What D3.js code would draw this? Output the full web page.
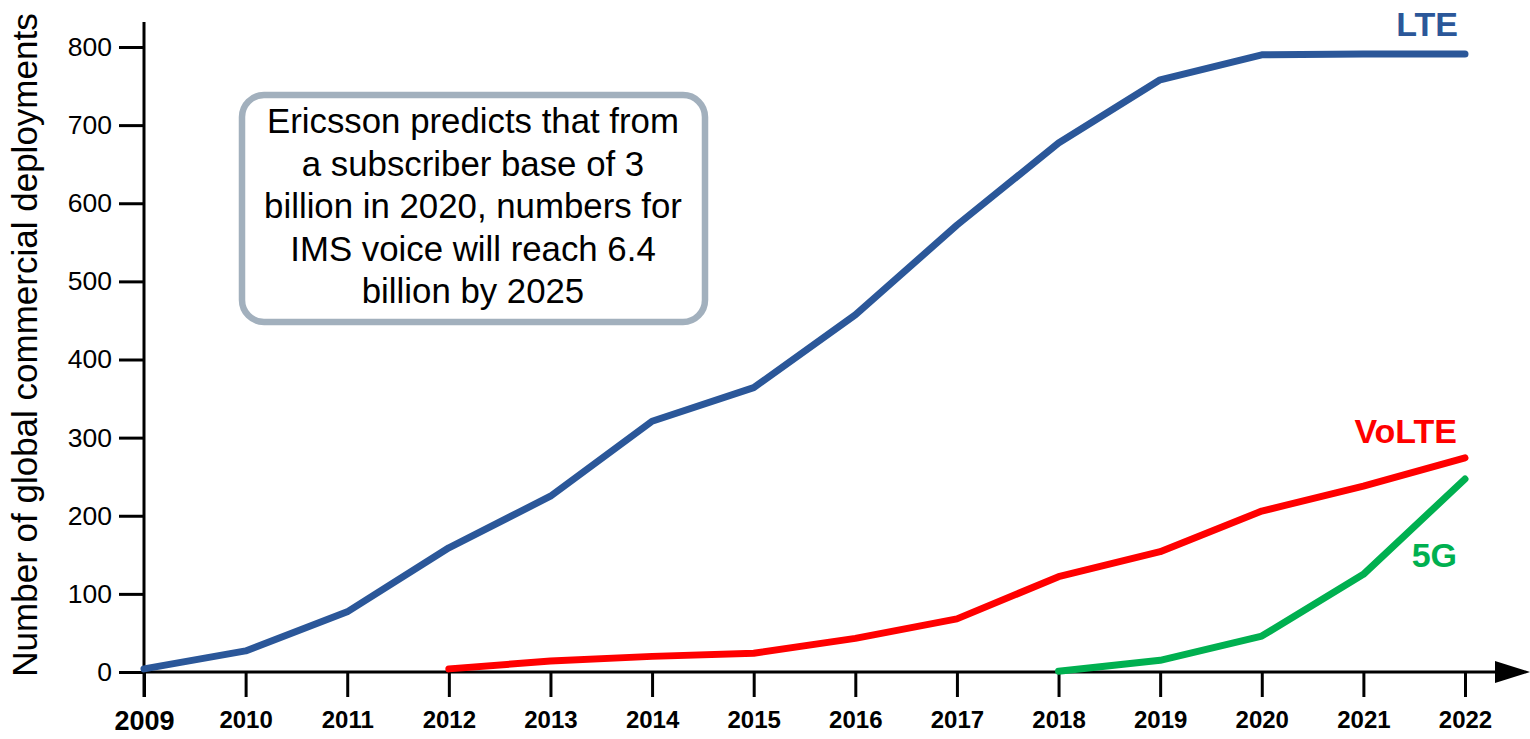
<!DOCTYPE html>
<html>
<head>
<meta charset="utf-8">
<script src="https://cdn.jsdelivr.net/npm/d3@7"></script>
<style>
  body { margin: 0; background: #fff; }
  svg { display: block; font-family: "Liberation Sans", Arial, sans-serif; }
</style>
</head>
<body>
<div id="chart"></div>
<script>
// data
const years = [2009, 2010, 2011, 2012, 2013, 2014, 2015, 2016, 2017, 2018, 2019, 2020, 2021, 2022];
const lteValues = [4, 27, 77, 159, 225, 321, 364, 457, 572, 677, 758, 790, 791, 791];
const volteYears = [2012, 2013, 2014, 2015, 2016, 2017, 2018, 2019, 2020, 2021, 2022];
const volteValues = [4, 14, 20, 24, 43, 68, 122, 154, 206, 238, 274];
const g5Years = [2018, 2019, 2020, 2021, 2022];
const g5Values = [1, 15, 46, 125, 247];
const yTicks = [0, 100, 200, 300, 400, 500, 600, 700, 800];
const noteLines = [
  "Ericsson predicts that from",
  "a subscriber base of 3",
  "billion in 2020, numbers for",
  "IMS voice will reach 6.4",
  "billion by 2025"
];

const width = 1530, height = 739;
const font = "Liberation Sans, Arial, sans-serif";
const svg = d3.select("#chart").append("svg")
    .attr("width", width)
    .attr("height", height);

const x = d3.scaleLinear().domain([2009, 2022]).range([144, 1465]);
const y = d3.scaleLinear().domain([0, 800]).range([672, 47]);

// y axis
const yAxis = svg.append("g")
    .attr("transform", `translate(${x(2009)},0)`)
    .call(d3.axisLeft(y).tickValues(yTicks).tickSize(25).tickPadding(7).tickSizeOuter(0));
yAxis.select(".domain").remove();
yAxis.selectAll(".tick line").attr("stroke", "#000").attr("stroke-width", 3);
yAxis.selectAll(".tick text")
    .attr("font-size", 26.5)
    .attr("font-family", font)
    .attr("fill", "#000");
svg.append("line")
    .attr("x1", x(2009)).attr("x2", x(2009))
    .attr("y1", 22).attr("y2", 697)
    .attr("stroke", "#000").attr("stroke-width", 3);

// x axis
const xAxis = svg.append("g")
    .attr("transform", `translate(0,${y(0)})`)
    .call(d3.axisBottom(x).tickValues(years).tickFormat(d3.format("d")).tickSize(25).tickPadding(14).tickSizeOuter(0));
xAxis.select(".domain").remove();
xAxis.selectAll(".tick line").attr("stroke", "#000").attr("stroke-width", 3);
xAxis.selectAll(".tick text")
    .attr("font-size", 24)
    .attr("font-weight", "bold")
    .attr("font-family", font)
    .attr("fill", "#000");
xAxis.selectAll(".tick text").filter(d => d === 2009)
    .attr("font-size", 27);
svg.append("line")
    .attr("x1", x(2009)).attr("x2", 1500)
    .attr("y1", y(0)).attr("y2", y(0))
    .attr("stroke", "#000").attr("stroke-width", 3);
svg.append("path")
    .attr("d", `M1495,${y(0) - 11} L1530,${y(0)} L1495,${y(0) + 11} Z`)
    .attr("fill", "#000");

// y axis title
svg.append("text")
    .attr("transform", `translate(37,345) rotate(-90)`)
    .attr("text-anchor", "middle")
    .attr("font-size", 35)
    .attr("font-family", font)
    .attr("fill", "#000")
    .text("Number of global commercial deployments");

// lines
const line = d3.line().x(d => x(d[0])).y(d => y(d[1]));
const series = [
  { name: "LTE", xs: years, vs: lteValues, color: "#2b5799" },
  { name: "VoLTE", xs: volteYears, vs: volteValues, color: "#ff0000" },
  { name: "5G", xs: g5Years, vs: g5Values, color: "#00b050" }
];
series.forEach(s => {
  svg.append("path")
      .datum(d3.zip(s.xs, s.vs))
      .attr("d", line)
      .attr("fill", "none")
      .attr("stroke", s.color)
      .attr("stroke-width", 7)
      .attr("stroke-linecap", "round")
      .attr("stroke-linejoin", "round");
});

// series labels
const labels = [
  { text: "LTE", x: 1458, y: 36, color: "#2b5799" },
  { text: "VoLTE", x: 1457, y: 443, color: "#ff0000" },
  { text: "5G", x: 1457, y: 567, color: "#00b050" }
];
svg.selectAll(".series-label")
  .data(labels)
  .join("text")
    .attr("class", "series-label")
    .attr("x", d => d.x)
    .attr("y", d => d.y)
    .attr("text-anchor", "end")
    .attr("font-size", 34)
    .attr("font-weight", "bold")
    .attr("font-family", font)
    .attr("fill", d => d.color)
    .text(d => d.text);

// note box
svg.append("rect")
    .attr("x", 242).attr("y", 95)
    .attr("width", 463).attr("height", 227)
    .attr("rx", 22).attr("ry", 22)
    .attr("fill", "#fff")
    .attr("stroke", "#a2b0bd")
    .attr("stroke-width", 6.5);
svg.append("text")
    .attr("text-anchor", "middle")
    .attr("font-size", 34.8)
    .attr("font-family", font)
    .attr("fill", "#000")
  .selectAll("tspan")
  .data(noteLines)
  .join("tspan")
    .attr("x", 473)
    .attr("y", (d, i) => 133 + i * 42.5)
    .text(d => d);
</script>
</body>
</html>
